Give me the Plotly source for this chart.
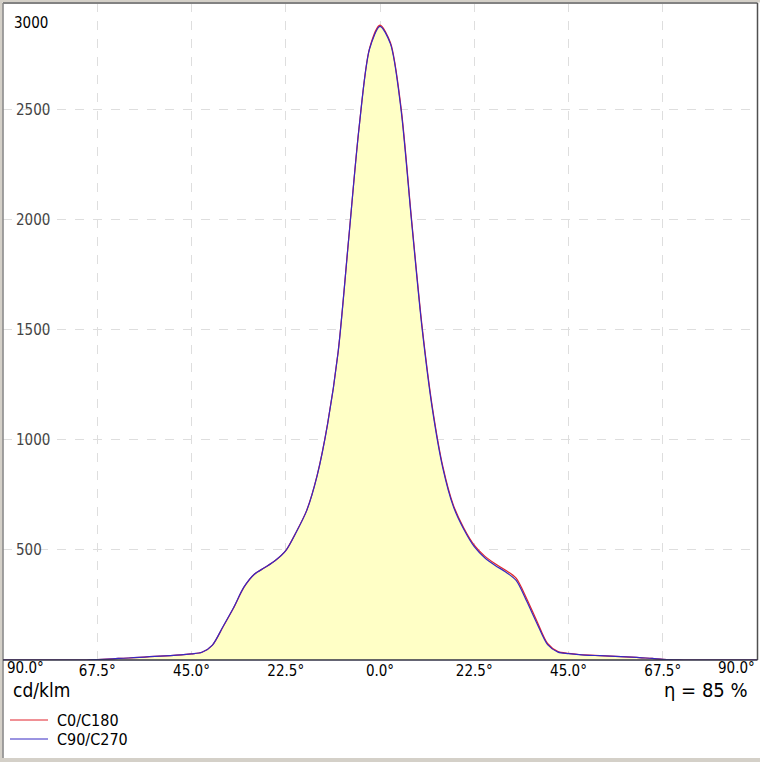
import plotly.graph_objects as go

# Gamma angles (degrees) and luminous intensity (cd/klm) per half-plane
gamma = [0, 2.5, 5, 7.5, 10, 12.5, 15, 17.5, 20, 22.5, 25, 27.5, 30, 32.5, 35, 37.5,
         40, 42.5, 45, 47.5, 50, 52.5, 55, 57.5, 60, 62.5, 65, 67.5, 70, 72.5, 75,
         77.5, 80, 82.5, 85, 87.5, 90]

c0 = [2885, 2805, 2515, 2010, 1525, 1150, 880, 705, 600, 522, 472, 437, 408, 372, 280, 175,
      75, 38, 30, 25, 22, 20, 18, 15, 13, 10, 7, 3, 1, 0, 0, 0, 0, 0, 0, 0, 0]
c180 = [2885, 2780, 2420, 1910, 1400, 1075, 840, 680, 582, 497, 452, 420, 390, 330, 235, 150,
        68, 35, 28, 23, 20, 18, 15, 12, 9, 7, 4, 2, 0, 0, 0, 0, 0, 0, 0, 0, 0]
c90 = [2880, 2800, 2505, 2000, 1515, 1140, 872, 698, 594, 515, 465, 430, 400, 362, 268, 165,
       70, 36, 29, 24, 21, 20, 18, 15, 13, 10, 7, 3, 1, 0, 0, 0, 0, 0, 0, 0, 0]
c270 = [2880, 2777, 2418, 1908, 1398, 1073, 838, 679, 581, 497, 452, 420, 390, 331, 236, 151,
        68, 35, 28, 23, 20, 18, 15, 12, 9, 7, 4, 2, 0, 0, 0, 0, 0, 0, 0, 0, 0]

x_tickvals = [-67.5, -45, -22.5, 0, 22.5, 45, 67.5]
x_ticktext = ["67.5°", "45.0°", "22.5°", "0.0°", "22.5°", "45.0°", "67.5°"]
edge_label = "90.0°"
y_tickvals = [500, 1000, 1500, 2000, 2500]
y_top_label = "3000"
legend_names = ["C0/C180", "C90/C270"]
unit_label = "cd/klm"
eta_label = "η = 85 %"

RED = "rgb(225,35,45)"
BLUE = "rgb(55,40,195)"
FILL = "rgb(255,255,198)"
FONT = "DejaVu Sans Condensed, DejaVu Sans, sans-serif"

def side(left, right):
    xs = [-g for g in reversed(gamma)] + gamma[1:]
    ys = list(reversed(left)) + right[1:]
    return xs, ys

x1, y1 = side(c180, c0)
x2, y2 = side(c270, c90)

fig = go.Figure()
fig.add_trace(go.Scatter(x=x1, y=y1, mode="lines", name=legend_names[0],
                         line=dict(color=RED, width=1.2, shape="spline", smoothing=0.8),
                         fill="tozeroy", fillcolor=FILL, hoverinfo="skip"))
fig.add_trace(go.Scatter(x=x2, y=y2, mode="lines", name=legend_names[1],
                         line=dict(color=BLUE, width=1.2, shape="spline", smoothing=0.8),
                         hoverinfo="skip"))

W, H = 760, 762
L, R, T, B = 3, 3, 3, 102
pw, ph = W - L - R, H - T - B

def px(p):
    return (p - L) / pw

def py(p):
    return (H - B - p) / ph

grid = "rgb(222,222,222)"
fig.update_layout(
    width=W, height=H, margin=dict(l=L, r=R, t=T, b=B),
    paper_bgcolor="white", plot_bgcolor="white", showlegend=False,
    font=dict(family=FONT, color="black"),
    xaxis=dict(range=[-90, 90], tickvals=x_tickvals, ticktext=x_ticktext,
               showgrid=True, gridcolor=grid, griddash="dash", gridwidth=1,
               zeroline=False, showline=False, ticks="", tickfont=dict(size=15, family=FONT),
               ticklabelstandoff=0),
    yaxis=dict(range=[0, 2986], tickvals=y_tickvals, ticklabelposition="inside",
               showgrid=True, gridcolor=grid, griddash="dash", gridwidth=1,
               zeroline=False, showline=False, ticks="", tickfont=dict(size=15, family=FONT),
               ticklabelstandoff=10),
)

shapes = []
win = "rgb(212,208,200)"
# outer window bands
shapes.append(dict(type="rect", xref="paper", yref="paper", x0=px(0), x1=px(2.5), y0=py(762), y1=py(0),
                   fillcolor=win, line=dict(width=0), layer="above"))
shapes.append(dict(type="rect", xref="paper", yref="paper", x0=px(0), x1=px(760), y0=py(2.5), y1=py(0),
                   fillcolor=win, line=dict(width=0), layer="above"))
shapes.append(dict(type="rect", xref="paper", yref="paper", x0=px(0), x1=px(760), y0=py(762), y1=py(758),
                   fillcolor=win, line=dict(width=0), layer="above"))
# plot frame
shapes.append(dict(type="line", xref="paper", yref="paper", x0=px(3), x1=px(3), y0=py(758), y1=py(3),
                   line=dict(color="rgb(130,130,130)", width=1.5), layer="above"))
shapes.append(dict(type="line", xref="paper", yref="paper", x0=px(3), x1=px(757.5), y0=1, y1=1,
                   line=dict(color="rgb(130,130,130)", width=2), layer="above"))
shapes.append(dict(type="line", xref="paper", yref="paper", x0=px(757.5), x1=px(757.5), y0=0, y1=1,
                   line=dict(color="rgb(80,80,80)", width=1.5), layer="above"))
shapes.append(dict(type="line", xref="paper", yref="paper", x0=px(3), x1=px(757.5), y0=0, y1=0,
                   line=dict(color="rgb(50,50,70)", width=1.5), layer="above"))
# legend samples
shapes.append(dict(type="line", xref="paper", yref="paper", x0=px(10), x1=px(48), y0=py(720), y1=py(720),
                   line=dict(color=RED, width=1)))
shapes.append(dict(type="line", xref="paper", yref="paper", x0=px(10), x1=px(48), y0=py(739), y1=py(739),
                   line=dict(color=BLUE, width=1)))
fig.update_layout(shapes=shapes)

ann = []
ann.append(dict(xref="paper", yref="paper", x=px(5), y=py(668), text=edge_label, showarrow=False,
                xanchor="left", yanchor="middle", font=dict(size=15, family=FONT)))
ann.append(dict(xref="paper", yref="paper", x=px(757), y=py(668), text=edge_label, showarrow=False,
                xanchor="right", yanchor="middle", font=dict(size=15, family=FONT)))
ann.append(dict(xref="paper", yref="paper", x=px(12), y=py(23), text=y_top_label, showarrow=False,
                xanchor="left", yanchor="middle", font=dict(size=15, family=FONT)))
ann.append(dict(xref="paper", yref="paper", x=px(11), y=py(690), text=unit_label, showarrow=False,
                xanchor="left", yanchor="middle", font=dict(size=19, family=FONT)))
ann.append(dict(xref="paper", yref="paper", x=px(750), y=py(690), text=eta_label, showarrow=False,
                xanchor="right", yanchor="middle", font=dict(size=20, family=FONT)))
ann.append(dict(xref="paper", yref="paper", x=px(55), y=py(720), text=legend_names[0], showarrow=False,
                xanchor="left", yanchor="middle", font=dict(size=16, family=FONT)))
ann.append(dict(xref="paper", yref="paper", x=px(55), y=py(739), text=legend_names[1], showarrow=False,
                xanchor="left", yanchor="middle", font=dict(size=16, family=FONT)))
fig.update_layout(annotations=ann)

fig.write_html("out.html", config={"displayModeBar": False},
               post_script="document.body.style.margin='0';document.body.style.padding='0';"
                           "document.body.style.overflow='hidden';"
                           "document.documentElement.style.overflow='hidden';")
